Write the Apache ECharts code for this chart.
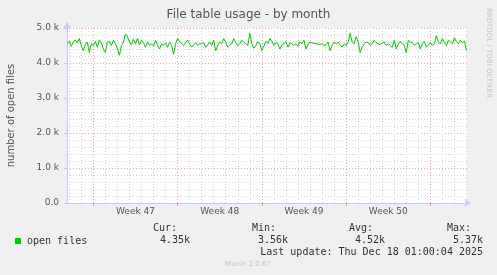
<!DOCTYPE html>
<html><head><meta charset="utf-8">
<script src="https://cdn.jsdelivr.net/npm/echarts@6/dist/echarts.min.js"></script>
<style>html,body{margin:0;padding:0;background:#f0f0f0}#c{width:497px;height:275px}</style>
</head><body><div id="c"></div>
<script>
// hours relative to Mon 17 Nov 2025 00:00 (start of ISO week 47)
const startHour = -52;
const stepHours = 4;
const axisMinHour = -52.5;
const axisMaxHour = 745;
const weekLabels = ["Week 47", "Week 48", "Week 49", "Week 50"];
const weekMidHours = [84, 252, 420, 588];
const weekStartHours = [0, 168, 336, 504, 672];
const dayHours = [-48,-24,0,24,48,72,96,120,144,168,192,216,240,264,288,312,336,360,384,408,432,456,480,504,528,552,576,600,624,648,672,696,720,744];
const yTicks = [0, 1000, 2000, 3000, 4000, 5000];
const openFiles = [
 4.55,4.62,4.48,4.60,4.66,4.58,4.70,4.50,4.35,4.52,4.60,4.30,4.55,4.50,4.62,4.45,4.66,4.58,4.40,4.30,
 4.60,4.62,4.50,4.65,4.55,4.40,4.22,4.50,4.60,4.83,4.75,4.60,4.52,4.68,4.55,4.70,4.52,4.65,4.58,4.45,
 4.60,4.50,4.55,4.48,4.65,4.52,4.40,4.55,4.50,4.58,4.45,4.60,4.50,4.25,4.55,4.70,4.62,4.55,4.50,4.58,
 4.66,4.55,4.45,4.52,4.58,4.50,4.55,
 4.55,4.58,4.45,4.52,4.60,4.50,4.65,4.35,4.50,4.60,4.55,4.70,4.58,4.45,4.52,4.55,4.70,4.58,4.50,4.55,
 4.65,4.60,4.55,4.50,4.85,4.55,4.42,4.50,4.60,4.55,4.35,4.48,4.62,4.55,4.70,4.62,4.50,4.58,4.55,4.40,
 4.52,4.55,4.62,4.45,4.58,4.55,4.50,4.55,4.48,4.60,4.55,4.65,4.40,4.52,4.60,4.58,4.56,4.55,4.54,4.53,
 4.55,4.50,4.52,4.60,4.35,4.50,4.60,
 4.55,4.60,4.52,4.45,4.55,4.50,4.60,4.85,4.60,4.55,4.75,4.60,4.30,4.45,4.55,4.60,4.58,4.50,4.55,4.65,
 4.58,4.55,4.52,4.58,4.60,4.50,4.55,4.50,4.45,4.65,4.40,4.55,4.62,4.55,4.50,4.30,4.65,4.60,4.58,4.50,
 4.55,4.58,4.40,4.55,4.62,4.45,4.52,4.58,4.50,4.55,4.78,4.60,4.55,4.70,4.58,4.50,4.65,4.60,4.55,4.72,
 4.60,4.55,4.65,4.58,4.62,4.35
];
const seriesName = "open files";
const statHeads = ["Cur:", "Min:", "Avg:", "Max:"];
const statValues = ["4.35k", "3.56k", "4.52k", "5.37k"];
const lastUpdate = "Last update: Thu Dec 18 01:00:04 2025";

const data = openFiles.map((v, i) => [startHour + i * stepHours, v * 1000]);
const chart = echarts.init(document.getElementById('c'), null, {renderer: 'canvas'});
const gridBase = {min: axisMinHour, max: axisMaxHour, type: 'value'};
const mono = 'DejaVu Sans Mono';
const statRight = [177, 276, 373, 471];
const valRight = [190, 288, 385, 483];
const graphics = [];
statHeads.forEach((t, i) => graphics.push({type: 'text', style: {text: t, x: statRight[i], y: 228, textAlign: 'right', textVerticalAlign: 'middle', font: '10px ' + mono, fill: '#333'}}));
statValues.forEach((t, i) => graphics.push({type: 'text', style: {text: t, x: valRight[i], y: 240, textAlign: 'right', textVerticalAlign: 'middle', font: '10px ' + mono, fill: '#333'}}));
graphics.push({type: 'text', style: {text: lastUpdate, x: 483, y: 252, textAlign: 'right', textVerticalAlign: 'middle', font: '10px ' + mono, fill: '#333'}});
graphics.push({type: 'text', style: {text: 'Munin 2.0.67', x: 248, y: 264, textAlign: 'center', textVerticalAlign: 'middle', font: '7px DejaVu Sans', fill: '#c4c4c4'}});
graphics.push({type: 'text', x: 489, y: 53, rotation: -Math.PI / 2, style: {text: 'RRDTOOL / TOBI OETIKER', x: 0, y: 0, textAlign: 'center', textVerticalAlign: 'middle', font: '7px DejaVu Sans', fill: '#c4c4c4'}});

chart.setOption({
  animation: false,
  backgroundColor: '#f0f0f0',
  title: {text: 'File table usage - by month', left: 'center', top: 4,
    textStyle: {fontFamily: 'DejaVu Sans', fontSize: 12, fontWeight: 'normal', color: '#555'}},
  legend: {left: 10, top: 231, itemWidth: 6, itemHeight: 6, itemGap: 10, icon: 'rect',
    textStyle: {fontFamily: mono, fontSize: 10, color: '#333', padding: [0, 0, 0, 1]},
    data: [seriesName]},
  grid: {left: 67, right: 30, top: 28, bottom: 72, show: true, backgroundColor: '#ffffff', borderWidth: 0,
    containLabel: false, outerBoundsMode: 'none'},
  xAxis: [
    Object.assign({}, gridBase, {
      axisLine: {show: true, onZero: false, lineStyle: {color: '#c8c8ff'}, symbol: ['none', 'arrow'], symbolSize: [6, 7], symbolOffset: [0, 4]},
      axisTick: {show: true, length: 3, customValues: weekStartHours, lineStyle: {color: '#e29a9a'}},
      axisLabel: {show: true, customValues: weekMidHours, margin: 4,
        formatter: v => weekLabels[weekMidHours.indexOf(Math.round(v))] || '',
        fontFamily: 'DejaVu Sans', fontSize: 9, color: '#555'},
      splitLine: {show: true, lineStyle: {color: '#e8a0a0', type: [1, 2], width: 1}},
      z: 3
    }),
    Object.assign({}, gridBase, {
      axisLine: {show: false, onZero: false}, axisLabel: {show: false},
      axisTick: {show: false, customValues: dayHours},
      splitLine: {show: true, lineStyle: {color: '#d4d4d4', type: [1, 2], width: 1}},
      z: 1
    })
  ],
  yAxis: {
    type: 'value', min: 0, max: 5000, interval: 1000,
    name: 'number of open files', nameLocation: 'middle', nameGap: 51,
    nameTextStyle: {fontFamily: 'DejaVu Sans', fontSize: 10, color: '#555'},
    axisLine: {show: true, onZero: false, lineStyle: {color: '#c8c8ff'}, symbol: ['none', 'arrow'], symbolSize: [6, 7], symbolOffset: [0, 6]},
    axisTick: {show: true, length: 3, lineStyle: {color: '#c8c8ff'}},
    axisLabel: {margin: 8, fontFamily: 'DejaVu Sans', fontSize: 9, color: '#555',
      formatter: v => v === 0 ? '0.0' : (v / 1000).toFixed(1) + ' k'},
    splitLine: {show: true, lineStyle: {color: '#e8a0a0', type: [1, 2], width: 1}},
    minorTick: {show: false, splitNumber: 5},
    minorSplitLine: {show: true, lineStyle: {color: '#d4d4d4', type: [1, 2], width: 1}}
  },
  series: [{
    name: seriesName, type: 'line', xAxisIndex: 0, data: data, showSymbol: false, symbol: 'none',
    lineStyle: {color: '#00cc00', width: 1}, itemStyle: {color: '#00cc00'}, z: 5
  }],
  graphic: graphics
});
</script></body></html>
